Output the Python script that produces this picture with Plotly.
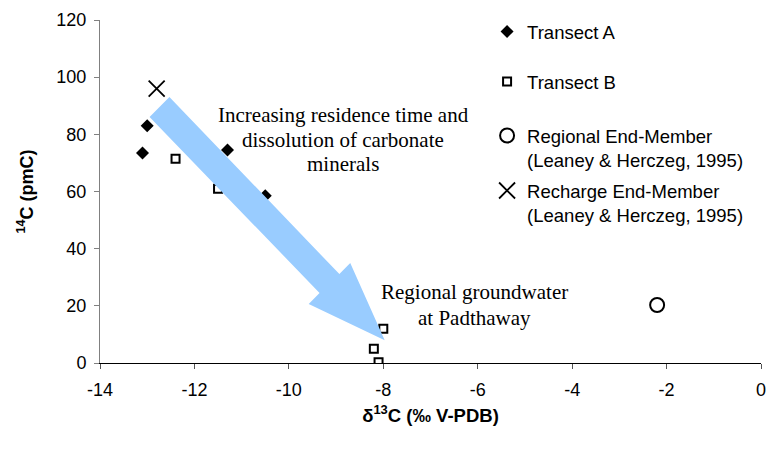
import plotly.graph_objects as go

# ---- data ----
transect_a_x = [-13.0, -13.1, -11.3, -10.5]
transect_a_y = [83.0, 73.5, 74.5, 58.5]

transect_b_x = [-12.4, -11.5, -8.0, -8.2, -8.1]
transect_b_y = [71.5, 61.0, 12.0, 5.0, 0.3]

regional_x = [-2.2]
regional_y = [20.3]

recharge_x = [-12.8]
recharge_y = [96.0]

x_ticks = [-14, -12, -10, -8, -6, -4, -2, 0]
y_ticks = [0, 20, 40, 60, 80, 100, 120]

# block arrow outline (data units)
arrow_x = [-12.53, -8.93, -8.70, -7.97, -9.58, -9.35, -12.95]
arrow_y = [93.1, 31.1, 35.0, 8.0, 20.6, 24.5, 86.1]

note1_lines = ["Increasing residence time and", "dissolution of carbonate", "minerals"]
note1_x = -8.85
note1_y = [86.6, 78.0, 69.6]
note2_lines = ["Regional groundwater", "at Padthaway"]
note2_x = -6.07
note2_y = [24.8, 15.7]

SANS = "Liberation Sans, Arial, sans-serif"
SERIF = "Liberation Serif, Times New Roman, serif"

fig = go.Figure()
fig.add_trace(go.Scatter(
    x=transect_a_x, y=transect_a_y, mode="markers", name="Transect A",
    legend="legend",
    marker=dict(symbol="diamond", size=10, color="black")))
fig.add_trace(go.Scatter(
    x=transect_b_x, y=transect_b_y, mode="markers", name="Transect B",
    legend="legend2",
    marker=dict(symbol="square-open", size=8, color="black", line=dict(width=2, color="black"))))
fig.add_trace(go.Scatter(
    x=regional_x, y=regional_y, mode="markers",
    name="Regional End-Member<br>(Leaney & Herczeg, 1995)", legend="legend3",
    marker=dict(symbol="circle-open", size=14, color="black", line=dict(width=2, color="black"))))
fig.add_trace(go.Scatter(
    x=recharge_x, y=recharge_y, mode="markers",
    name="Recharge End-Member<br>(Leaney & Herczeg, 1995)", legend="legend4",
    marker=dict(symbol="x-thin-open", size=16, color="black", line=dict(width=1.8, color="black"))))

path = "M " + " L ".join(f"{x},{y}" for x, y in zip(arrow_x, arrow_y)) + " Z"
fig.add_shape(type="path", path=path, xref="x", yref="y",
              fillcolor="#99CCFF", line=dict(width=0), layer="above")

for txt, yy in zip(note1_lines, note1_y):
    fig.add_annotation(x=note1_x, y=yy, xref="x", yref="y", text=txt, showarrow=False,
                       font=dict(family=SERIF, size=21, color="black"), xanchor="center", yanchor="middle")
for txt, yy in zip(note2_lines, note2_y):
    fig.add_annotation(x=note2_x, y=yy, xref="x", yref="y", text=txt, showarrow=False,
                       font=dict(family=SERIF, size=21, color="black"), xanchor="center", yanchor="middle")

leg_font = dict(family=SANS, size=18.5, color="black")
def leg(ypos):
    return dict(x=0.5856, y=ypos, xanchor="left", yanchor="top", font=leg_font,
                valign="top", bgcolor="rgba(0,0,0,0)")

fig.update_layout(
    width=774, height=449,
    margin=dict(l=100, r=8, t=20, b=86),
    paper_bgcolor="white", plot_bgcolor="white",
    font=dict(family=SANS, size=18, color="black"),
    legend=leg(1.0204),
    legend2=leg(0.8746),
    legend3=leg(0.7172),
    legend4=leg(0.5569),
    showlegend=True,
)
fig.update_xaxes(range=[-14, 0], tickvals=x_ticks, ticktext=[str(v) for v in x_ticks],
                 showgrid=False, zeroline=False, showline=True, linecolor="black", linewidth=1,
                 ticks="outside", ticklen=5, tickcolor="#555555", ticklabelstandoff=5,
                 tickfont=dict(family=SANS, size=18),
                 title=dict(text="<b>δ<sup>13</sup>C (‰ V-PDB)</b>", font=dict(family=SANS, size=18.5), standoff=10))
fig.update_yaxes(range=[0, 120], tickvals=y_ticks, ticktext=[str(v) for v in y_ticks],
                 showgrid=False, zeroline=False, showline=True, linecolor="#808080", linewidth=1,
                 ticks="outside", ticklen=5, tickcolor="#808080", ticklabelstandoff=4,
                 tickfont=dict(family=SANS, size=18),
                 title=dict(text="<b><sup>14</sup>C (pmC)</b>", font=dict(family=SANS, size=18), standoff=18))

fig.write_html("out.html")
